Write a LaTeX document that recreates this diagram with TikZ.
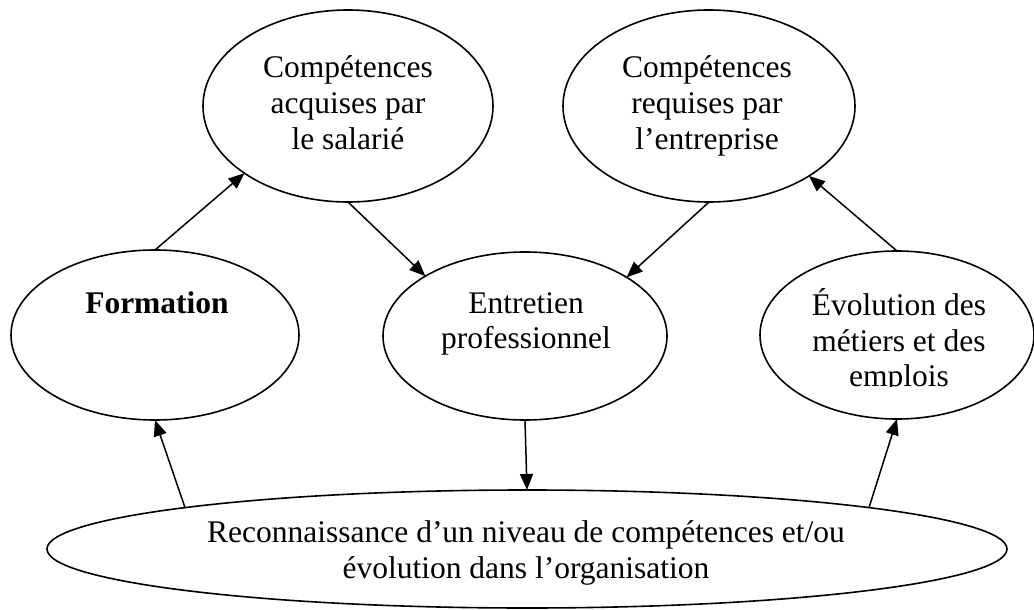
\documentclass[tikz,border=0pt]{standalone}
\usepackage{fontspec}
\setmainfont{Liberation Serif}
\usetikzlibrary{shapes.geometric,arrows.meta,calc}
\tikzset{
  oval/.style={ellipse, draw, line width=0.8pt, inner sep=0pt, outer sep=0pt},
  lbl/.style={align=center, inner sep=0pt, font=\fontsize{15.75pt}{17.9pt}\selectfont},
  conn/.style={line width=0.75pt, -{Triangle[length=8pt,width=6.5pt]}}
}
\begin{document}
\begin{tikzpicture}[x=0.5pt,y=-0.5pt]
\useasboundingbox (0,0) rectangle (1034,610);
% ellipses
\node[oval, minimum width=145pt, minimum height=96pt] (acq) at (348,106) {};
\node[oval, minimum width=146pt, minimum height=96pt] (req) at (709,106) {};
\node[oval, minimum width=144pt, minimum height=85pt] (form) at (155,335) {};
\node[oval, minimum width=142pt, minimum height=84pt] (ent) at (525,336) {};
\node[oval, minimum width=137pt, minimum height=84pt] (evo) at (897,335) {};
\node[oval, minimum width=480pt, minimum height=59pt] (bot) at (527,549) {};
\coordinate (botL) at ($(bot.center)+(-342,-41.4)$);
\coordinate (botR) at ($(bot.center)+(342,-41.4)$);
% texts
\node[lbl] (tacq) at (348,103) {Compétences\\acquises par\\le salarié};
\node[lbl] (treq) at (707,106) {Compétences\\requises par\\l’entreprise};
\node[lbl, font=\fontsize{15.75pt}{17.9pt}\selectfont\bfseries] (tform) at (157,303) {Formation};
\node[lbl] (tent) at (526,324) {Entretien\\professionnel};
\begin{scope}
\clip (740,200) rectangle (1034,386);
\node[lbl] (tevo) at (899,341) {Évolution des\\métiers et des\\emplois};
\end{scope}
\node[lbl] (tbot) at (526,553) {Reconnaissance d’un niveau de compétences et/ou\\évolution dans l’organisation};
% connectors
\draw[conn] (form.north) -- (acq.213.3);
\draw[conn] (acq.south) -- (ent.149);
\draw[conn] (req.south) -- (ent.30);
\draw[conn] (evo.north) -- (req.325);
\draw[conn] (botL) -- (form.south);
\draw[conn] (botR) -- (evo.south);
\draw[conn] (ent.south) -- (bot.north);
\end{tikzpicture}
\end{document}
